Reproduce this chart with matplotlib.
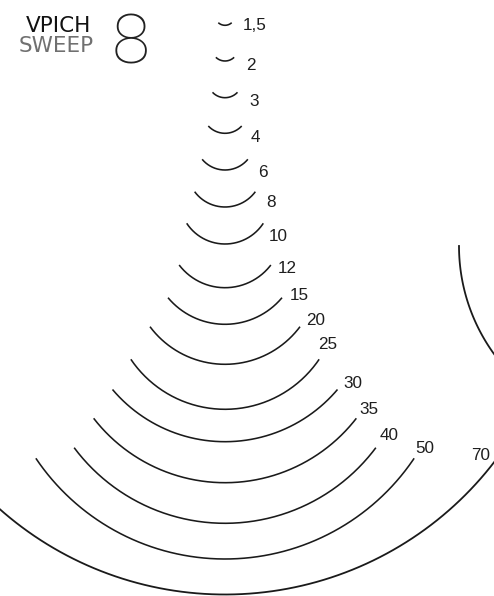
import numpy as np
import matplotlib
matplotlib.use("Agg")
import matplotlib.pyplot as plt

# sweep depths (labels) and arc geometry in pixels: bottom y, end y, half width
labels = ["1,5", "2", "3", "4", "6", "8", "10", "12", "15", "20", "25",
          "30", "35", "40", "50", "70"]
arc_bottom = [25.3, 61.0, 97.7, 133.3, 170.0, 207.0, 244.0, 287.7, 324.3,
              364.3, 409.3, 441.7, 482.7, 523.3, 559.0, 594.5]
arc_end = [22.7, 57.3, 92.3, 126.0, 159.3, 191.7, 223.3, 265.0, 297.7,
           326.7, 359.3, 389.5, 418.3, 447.7, 458.3, 469.5]
arc_half = [6.7, 9.15, 12.5, 16.7, 22.85, 30.35, 38.3, 45.85, 57.0,
            75.0, 94.15, 112.5, 131.35, 150.85, 189.15, 263.3]

# label position (left x, centre y)
label_pos = [(243, 25.5), (246.5, 65.7), (249, 101.7), (250.5, 137),
             (258, 172.3), (266.5, 202.7), (269, 236.7), (278, 268.3),
             (290, 295), (306, 320.7), (318, 344.3), (343, 383.3),
             (359, 409.3), (380, 436), (415.5, 448.5), (471, 455)]

cx = 225.0
W, H = 494, 596

fig = plt.figure(figsize=(W / 100, H / 100), dpi=100)
ax = fig.add_axes([0, 0, 1, 1])
ax.set_xlim(0, W)
ax.set_ylim(H, 0)
ax.axis("off")

for lab, yb, ye, w, (lx, ly) in zip(labels, arc_bottom, arc_end, arc_half, label_pos):
    s = yb - ye
    r = (w * w + s * s) / (2 * s)
    cy = yb - r
    th = np.arcsin(min(w / r, 1.0))
    if lab == "70":
        th = th * 1.25
    t = np.linspace(-th, th, 200)
    lw = 1.3 if lab == "70" else 1.15
    ax.plot(cx + r * np.sin(t), cy + r * np.cos(t), color="#1a1a1a", lw=lw,
            solid_capstyle="butt")
    ax.text(lx, ly, lab, fontsize=12.3, family="Liberation Sans", color="#1e1e1e",
            ha="left", va="center")

# part of a neighbouring circle at the right edge
phi = np.linspace(np.radians(138), np.pi, 100)
ax.plot(643 + 184 * np.cos(phi), 246 + 184 * np.sin(phi), color="#1a1a1a", lw=1.3)

# title block
ax.text(91.5, 32.5, "VPICH", fontsize=15.5, family="DejaVu Sans", color="#111111",
        ha="right", va="baseline")
ax.text(93.5, 51.5, "SWEEP", fontsize=15.5, family="DejaVu Sans", color="#707070",
        ha="right", va="baseline")
ax.text(130.5, 64, "8", fontsize=50, family=["Roboto", "DejaVu Sans"], fontweight="light",
        color="#222222", ha="center", va="baseline")

fig.savefig("out.png", dpi=100)
